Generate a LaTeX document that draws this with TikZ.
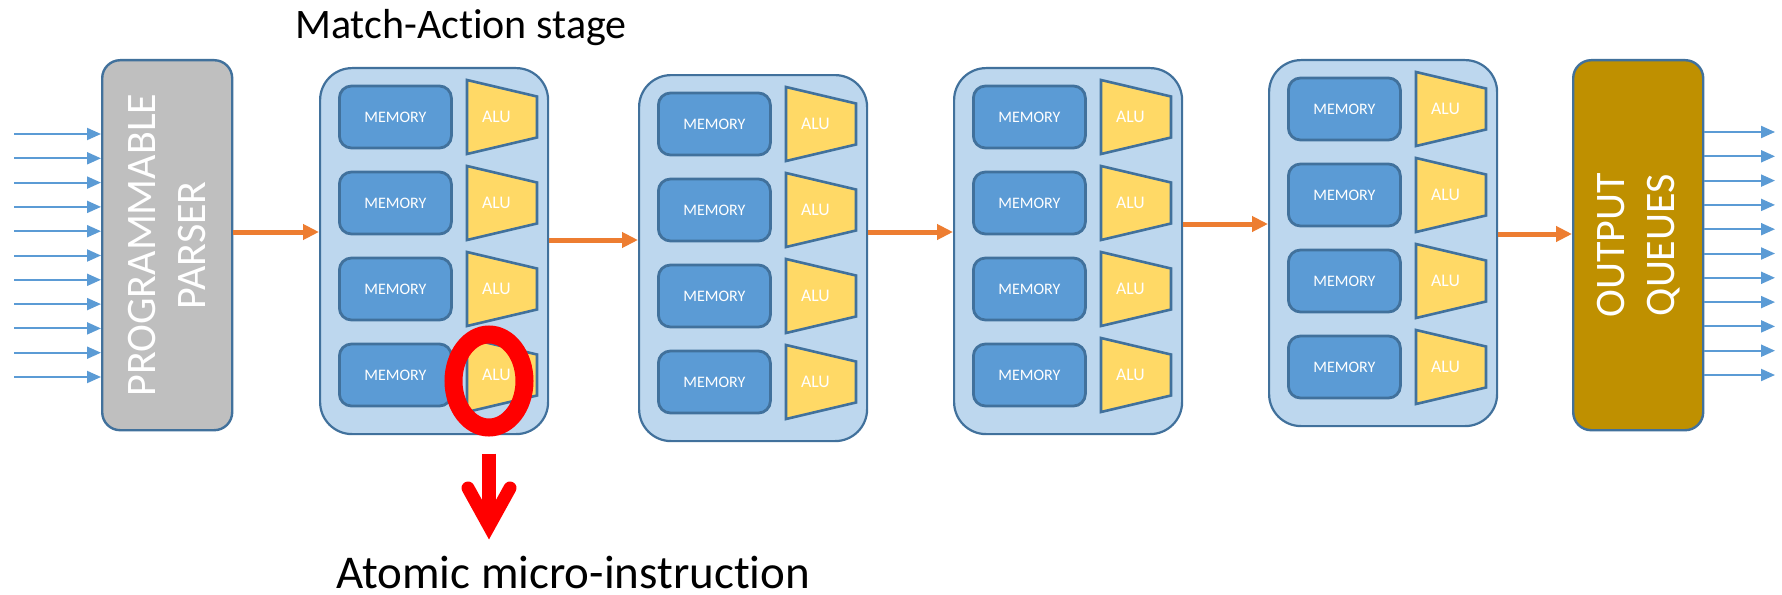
\documentclass[tikz,border=0pt]{standalone}
\usepackage{fontspec}
\setmainfont{Carlito}[Ligatures=NoCommon]
\usetikzlibrary{arrows.meta,calc,shapes.geometric}

\definecolor{stagefill}{HTML}{BDD7EE}
\definecolor{edgeblue}{HTML}{41719C}
\definecolor{memfill}{HTML}{5B9BD5}
\definecolor{alufill}{HTML}{FFD966}
\definecolor{parsergray}{HTML}{BFBFBF}
\definecolor{queuegold}{HTML}{BF9000}
\definecolor{linkorange}{HTML}{ED7D31}
\definecolor{portblue}{HTML}{5B9BD5}
\definecolor{alertred}{HTML}{FF0000}

\begin{document}
\begin{tikzpicture}[x=1pt,y=-1pt,
  endblock/.style={draw=edgeblue, line width=2.4pt, rounded corners=18pt,
    minimum width=130pt, minimum height=370pt, inner sep=0pt, anchor=north west},
  stagebox/.style={draw=edgeblue, fill=stagefill, line width=2.2pt, rounded corners=32pt,
    minimum width=228pt, minimum height=366pt, inner sep=0pt, anchor=north west},
  membox/.style={draw=edgeblue, fill=memfill, line width=2.8pt, rounded corners=12pt,
    minimum width=112pt, minimum height=62pt, inner sep=0pt, anchor=north west,
    text=white, font=\fontsize{16}{18}\selectfont},
  alushape/.style={draw=edgeblue, fill=alufill, line width=2.6pt, line join=miter},
  alutext/.style={text=white, inner sep=0pt, font=\fontsize{17.7}{20}\selectfont},
  bigwhite/.style={text=white, inner sep=0pt, align=center, rotate=90,
    font=\fontsize{42}{50}\selectfont},
  caption/.style={text=black, inner sep=0pt, anchor=base west},
  portarrow/.style={draw=portblue, line width=2pt, -{Triangle[length=14pt,width=12pt]}},
  linkarrow/.style={draw=linkorange, line width=5pt, -{Triangle[length=16pt,width=15pt]}},
  ring/.style={ellipse, draw=alertred, line width=18pt, minimum width=71pt,
    minimum height=93pt, inner sep=0pt},
  redshaft/.style={draw=alertred, line width=14pt},
  redhead/.style={draw=alertred, line width=13pt, line cap=round, line join=miter}
]
\useasboundingbox (0,0) rectangle (1782,594);
\fill[white] (0,0) rectangle (1782,594);

% parser and output queues
\node[endblock, fill=parsergray] (parser) at (101,59) {};
\node[bigwhite] (parsertext) at (parser.center) {PROGRAMMABLE\\PARSER};
\node[endblock, fill=queuegold] (queues) at (1572,59) {};
\node[bigwhite] (queuetext) at (queues.center) {OUTPUT\\QUEUES};

% match-action stages: four memory/ALU pairs each
\foreach \i/\sx/\sy in {1/319/67, 2/638/74, 3/953/67, 4/1268/59} {
  \node[stagebox] (s\i) at (\sx,\sy) {};
  \foreach \k in {0,...,3} {
    \pgfmathsetmacro\my{\sy+17.6+86*\k}
    \pgfmathsetmacro\ay{\sy+50+86*\k}
    \node[membox] (m\i\k) at (\sx+19,\my) {MEMORY};
    \draw[alushape] (\sx+148,\ay-37) -- (\sx+218,\ay-20.5)
      -- (\sx+218,\ay+20.5) -- (\sx+148,\ay+37) -- cycle;
    \node[alutext] (a\i\k) at (\sx+177.5,\ay) {ALU};
  }
}

% packet flow between blocks
\draw[linkarrow] (parser.east |- 0,232) -- (s1.west |- 0,232);
\draw[linkarrow] (s1.east |- 0,240) -- (s2.west |- 0,240);
\draw[linkarrow] (s2.east |- 0,232) -- (s3.west |- 0,232);
\draw[linkarrow] (s3.east |- 0,224) -- (s4.west |- 0,224);
\draw[linkarrow] (s4.east |- 0,234) -- (queues.west |- 0,234);

% input and output ports
\foreach \n in {0,...,10} {
  \pgfmathsetmacro\py{134+24.3*\n}
  \pgfmathsetmacro\qy{132+24.3*\n}
  \coordinate (in\n) at (14,\py);
  \coordinate (out\n) at (1775,\qy);
  \draw[portarrow] (in\n) -- (parser.west |- in\n);
  \draw[portarrow] (queues.east |- out\n) -- (out\n);
}

% highlighted ALU and its callout
\node[ring] (ring) at (489,381) {};
\coordinate (headtip) at (489,526);
\draw[redshaft] ([yshift=-17pt]ring.south) -- ([yshift=6pt]headtip);
\draw[redhead] ($(headtip)+(-21,-38)$) -- (headtip) -- ($(headtip)+(21,-38)$);

% captions
\node[caption, font=\fontsize{42}{50}\selectfont] (stagecap) at (295,38) {Match-Action stage};
\node[caption, font=\fontsize{47}{55}\selectfont] (atomcap) at (336,588) {Atomic micro-instruction};
\end{tikzpicture}
\end{document}
